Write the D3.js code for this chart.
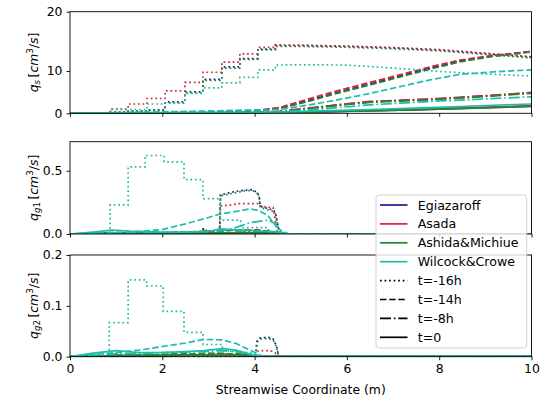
<!DOCTYPE html>
<html>
<head>
<meta charset="utf-8">
<script src="https://cdn.jsdelivr.net/npm/d3@7"></script>
<style>
  body { margin: 0; background: #fff; }
  svg { display: block; }
  text { font-family: "DejaVu Sans", sans-serif; }
</style>
</head>
<body>
<svg id="chart" width="545" height="398"></svg>
<script>
// ---------------- categories ----------------
const models = ["Egiazaroff", "Asada", "Ashida&Michiue", "Wilcock&Crowe"];
const times = ["t=-16h", "t=-14h", "t=-8h", "t=0"];
const xTicks = [0, 2, 4, 6, 8, 10];
const qsTicks = [0, 10, 20];
const g1Ticks = [0.0, 0.5];
const g2Ticks = [0.0, 0.1, 0.2];

// ---------------- q_s (total transport) ----------------
// t=-16h: stepped profile along the reach
const qsX16   = [0, 0.87, 0.87, 1.26, 1.26, 1.67, 1.67, 2.06, 2.06, 2.49, 2.49, 2.88, 2.88, 3.29, 3.29, 3.68, 3.68, 4.07, 4.07, 4.45, 4.45, 5, 6, 7, 8, 9, 10];
const qsEgi16 = [0, 0, 0.3, 0.3, 0.5, 0.5, 0.8, 0.8, 2.7, 2.7, 5.1, 5.1, 8.0, 8.0, 10.7, 10.7, 12.1, 12.1, 13.7, 13.7, 14.3, 14.3, 14.15, 13.9, 13.55, 12.95, 12.35];
const qsAsa16 = [0, 0, 1.0, 1.0, 2.2, 2.2, 3.5, 3.5, 5.3, 5.3, 7.3, 7.3, 9.7, 9.7, 11.5, 11.5, 12.9, 12.9, 14.0, 14.0, 14.4, 14.35, 14.2, 13.95, 13.6, 13.0, 12.4];
const qsAsh16 = [0, 0, 0.25, 0.25, 0.45, 0.45, 0.7, 0.7, 2.5, 2.5, 4.9, 4.9, 7.8, 7.8, 10.5, 10.5, 11.95, 11.95, 13.55, 13.55, 14.15, 14.15, 14.0, 13.75, 13.4, 12.8, 12.2];
const qsWil16 = [0, 0, 0.9, 0.9, 0.9, 0.9, 2.2, 2.2, 2.4, 2.4, 4.7, 4.7, 6.0, 6.0, 7.2, 7.2, 8.5, 8.5, 10.2, 10.2, 11.0, 11.05, 11.0, 10.5, 9.9, 9.3, 8.8];
// later times share one grid
const qsX     = [0, 1, 2, 3, 4, 4.55, 5.2, 5.85, 6.5, 7.15, 7.8, 8.45, 9.17, 10];
const qsEgi14 = [0, 0.05, 0.15, 0.3, 0.6, 1.2, 3.1, 5.1, 6.9, 8.8, 10.45, 11.7, 12.55, 13.3];
const qsAsa14 = [0, 0.05, 0.15, 0.3, 0.65, 1.4, 3.5, 5.5, 7.3, 9.1, 10.7, 11.85, 12.65, 13.3];
const qsAsh14 = [0, 0.05, 0.12, 0.25, 0.55, 1.1, 2.9, 4.9, 6.7, 8.6, 10.3, 11.55, 12.45, 13.2];
const qsWil14 = [0, 0.15, 0.35, 0.55, 0.8, 0.9, 2.0, 3.3, 4.7, 6.3, 7.9, 9.2, 9.8, 10.2];
const qsEgi8  = [0, 0, 0.05, 0.1, 0.2, 0.4, 1.2, 2.0, 2.7, 3.0, 3.3, 3.7, 4.2, 4.9];
const qsAsa8  = [0, 0, 0.05, 0.1, 0.25, 0.5, 1.3, 2.1, 2.8, 3.1, 3.4, 3.8, 4.3, 4.9];
const qsAsh8  = [0, 0, 0.05, 0.1, 0.2, 0.4, 1.1, 1.9, 2.6, 2.9, 3.2, 3.6, 4.1, 4.7];
const qsWil8  = [0, 0.05, 0.1, 0.15, 0.25, 0.3, 0.8, 1.4, 2.0, 2.4, 2.8, 3.1, 3.5, 3.9];
const qsEgi0  = [0, 0, 0.02, 0.05, 0.1, 0.15, 0.3, 0.45, 0.6, 0.75, 0.95, 1.15, 1.4, 1.7];
const qsAsa0  = [0, 0, 0.02, 0.05, 0.1, 0.15, 0.3, 0.45, 0.62, 0.78, 0.98, 1.2, 1.45, 1.75];
const qsAsh0  = [0, 0, 0.02, 0.05, 0.1, 0.15, 0.28, 0.42, 0.58, 0.72, 0.92, 1.1, 1.35, 1.65];
const qsWil0  = [0, 0.1, 0.15, 0.2, 0.25, 0.3, 0.5, 0.7, 0.9, 1.1, 1.35, 1.6, 1.9, 2.2];

// ---------------- q_g1 (fraction 1) ----------------
const g1XStep  = [0, 0.87, 0.87, 1.26, 1.26, 1.63, 1.63, 2.04, 2.04, 2.47, 2.47, 2.88, 2.88, 3.26, 3.26, 3.7, 3.7, 4.3, 4.3, 4.75, 10];
const g1Wil16  = [0, 0, 0.23, 0.23, 0.53, 0.53, 0.62, 0.62, 0.57, 0.57, 0.43, 0.43, 0.28, 0.28, 0.11, 0.11, 0.05, 0.05, 0.02, 0, 0];
const g1XFront = [0, 2.86, 2.88, 2.95, 2.97, 3.24, 3.26, 3.5, 3.65, 3.75, 3.95, 4.05, 4.1, 4.12, 4.3, 4.4, 4.45, 4.5, 4.55, 10];
const g1Egi16  = [0, 0, 0.04, 0.04, 0, 0, 0.31, 0.33, 0.34, 0.345, 0.35, 0.33, 0.3, 0.22, 0.2, 0.19, 0.17, 0.08, 0, 0];
const g1Asa16  = [0, 0, 0, 0, 0, 0, 0.22, 0.23, 0.24, 0.24, 0.24, 0.24, 0.24, 0.22, 0.21, 0.21, 0.1, 0, 0, 0];
const g1Ash16  = [0, 0, 0.035, 0.035, 0, 0, 0.3, 0.32, 0.33, 0.34, 0.345, 0.325, 0.29, 0.21, 0.19, 0.18, 0.16, 0.07, 0, 0];
const g1X      = [0, 0.5, 0.9, 1.3, 2, 2.5, 3, 3.25, 3.5, 3.75, 3.9, 4.1, 4.3, 4.45, 4.6, 4.75, 10];
const g1Wil14  = [0, 0.008, 0.012, 0.015, 0.035, 0.08, 0.13, 0.158, 0.172, 0.188, 0.198, 0.185, 0.14, 0.07, 0.01, 0, 0];
const g1Egi14  = [0, 0.002, 0.004, 0.005, 0.01, 0.015, 0.02, 0.025, 0.03, 0.03, 0.03, 0.028, 0.02, 0.01, 0, 0, 0];
const g1Asa14  = [0, 0.002, 0.004, 0.005, 0.01, 0.015, 0.022, 0.027, 0.032, 0.032, 0.032, 0.03, 0.022, 0.012, 0, 0, 0];
const g1Ash14  = [0, 0.002, 0.003, 0.004, 0.009, 0.014, 0.019, 0.024, 0.028, 0.028, 0.028, 0.026, 0.019, 0.009, 0, 0, 0];
const g1Wil8   = [0, 0.005, 0.008, 0.01, 0.012, 0.015, 0.02, 0.025, 0.04, 0.07, 0.09, 0.1, 0.11, 0.08, 0.02, 0, 0];
const g1Egi8   = [0, 0.001, 0.002, 0.003, 0.004, 0.005, 0.006, 0.008, 0.01, 0.012, 0.014, 0.015, 0.012, 0.008, 0.002, 0, 0];
const g1Asa8   = [0, 0.001, 0.002, 0.003, 0.004, 0.005, 0.006, 0.008, 0.01, 0.012, 0.014, 0.015, 0.012, 0.008, 0.002, 0, 0];
const g1Ash8   = [0, 0.001, 0.002, 0.003, 0.004, 0.005, 0.006, 0.008, 0.01, 0.012, 0.013, 0.014, 0.011, 0.007, 0.002, 0, 0];
const g1Wil0   = [0, 0.015, 0.03, 0.022, 0.015, 0.015, 0.02, 0.04, 0.035, 0.03, 0.028, 0.022, 0.02, 0.018, 0.01, 0, 0];
const g1Egi0   = [0, 0.005, 0.008, 0.007, 0.006, 0.006, 0.007, 0.01, 0.009, 0.008, 0.008, 0.007, 0.006, 0.005, 0.002, 0, 0];
const g1Asa0   = [0, 0.005, 0.008, 0.007, 0.006, 0.006, 0.007, 0.01, 0.009, 0.008, 0.008, 0.007, 0.006, 0.005, 0.002, 0, 0];
const g1Ash0   = [0, 0.004, 0.007, 0.006, 0.005, 0.005, 0.006, 0.009, 0.008, 0.007, 0.007, 0.006, 0.005, 0.004, 0.002, 0, 0];

// ---------------- q_g2 (fraction 2) ----------------
const g2XStep  = [0, 0.85, 0.85, 1.26, 1.26, 1.66, 1.66, 2.02, 2.02, 2.47, 2.47, 2.88, 2.88, 3.3, 3.3, 3.9, 4.2, 10];
const g2Wil16  = [0, 0, 0.067, 0.067, 0.151, 0.151, 0.139, 0.139, 0.089, 0.089, 0.048, 0.048, 0.024, 0.024, 0.012, 0.008, 0, 0];
const g2XFront = [0, 4.02, 4.05, 4.12, 4.3, 4.4, 4.48, 4.52, 10];
const g2Egi16  = [0, 0, 0.03, 0.037, 0.038, 0.035, 0.02, 0, 0];
const g2Asa16  = [0, 0, 0.01, 0.012, 0.012, 0.01, 0.005, 0, 0];
const g2Ash16  = [0, 0, 0.028, 0.035, 0.036, 0.033, 0.018, 0, 0];
const g2X      = [0, 0.5, 1, 1.5, 2, 2.5, 2.9, 3.3, 3.6, 3.9, 4.2, 10];
const g2Wil14  = [0, 0.005, 0.008, 0.013, 0.02, 0.027, 0.034, 0.033, 0.026, 0.013, 0, 0];
const g2Oth14  = [0, 0.001, 0.002, 0.003, 0.004, 0.005, 0.006, 0.006, 0.005, 0.003, 0, 0];
const g2Wil8   = [0, 0.003, 0.006, 0.006, 0.008, 0.009, 0.01, 0.012, 0.01, 0.005, 0, 0];
const g2Oth8   = [0, 0.001, 0.002, 0.002, 0.002, 0.003, 0.003, 0.004, 0.003, 0.002, 0, 0];
const g2Wil0   = [0, 0.007, 0.012, 0.008, 0.008, 0.01, 0.012, 0.016, 0.013, 0.005, 0, 0];
const g2Oth0   = [0, 0.001, 0.002, 0.002, 0.002, 0.003, 0.003, 0.004, 0.003, 0.002, 0, 0];

// ---------------- styling ----------------
const colors = { "Egiazaroff": "#1a1a8c", "Asada": "#dc1f3c", "Ashida&Michiue": "#1f8a2f", "Wilcock&Crowe": "#1fbcab" };
const LW = 1.7;
const dashes = { "t=-16h": "1.7,2.85", "t=-14h": "6.4,2.8", "t=-8h": "11,2.8,1.7,2.8", "t=0": null };

// series grouped per panel: [model, time, x, y]
const panelSeries = [
  [
    ["Egiazaroff", "t=-16h", qsX16, qsEgi16], ["Egiazaroff", "t=-14h", qsX, qsEgi14], ["Egiazaroff", "t=-8h", qsX, qsEgi8], ["Egiazaroff", "t=0", qsX, qsEgi0],
    ["Asada", "t=-16h", qsX16, qsAsa16], ["Asada", "t=-14h", qsX, qsAsa14], ["Asada", "t=-8h", qsX, qsAsa8], ["Asada", "t=0", qsX, qsAsa0],
    ["Ashida&Michiue", "t=-16h", qsX16, qsAsh16], ["Ashida&Michiue", "t=-14h", qsX, qsAsh14], ["Ashida&Michiue", "t=-8h", qsX, qsAsh8], ["Ashida&Michiue", "t=0", qsX, qsAsh0],
    ["Wilcock&Crowe", "t=-16h", qsX16, qsWil16], ["Wilcock&Crowe", "t=-14h", qsX, qsWil14], ["Wilcock&Crowe", "t=-8h", qsX, qsWil8], ["Wilcock&Crowe", "t=0", qsX, qsWil0]
  ],
  [
    ["Egiazaroff", "t=-16h", g1XFront, g1Egi16], ["Egiazaroff", "t=-14h", g1X, g1Egi14], ["Egiazaroff", "t=-8h", g1X, g1Egi8], ["Egiazaroff", "t=0", g1X, g1Egi0],
    ["Asada", "t=-16h", g1XFront, g1Asa16], ["Asada", "t=-14h", g1X, g1Asa14], ["Asada", "t=-8h", g1X, g1Asa8], ["Asada", "t=0", g1X, g1Asa0],
    ["Ashida&Michiue", "t=-16h", g1XFront, g1Ash16], ["Ashida&Michiue", "t=-14h", g1X, g1Ash14], ["Ashida&Michiue", "t=-8h", g1X, g1Ash8], ["Ashida&Michiue", "t=0", g1X, g1Ash0],
    ["Wilcock&Crowe", "t=-16h", g1XStep, g1Wil16], ["Wilcock&Crowe", "t=-14h", g1X, g1Wil14], ["Wilcock&Crowe", "t=-8h", g1X, g1Wil8], ["Wilcock&Crowe", "t=0", g1X, g1Wil0]
  ],
  [
    ["Egiazaroff", "t=-16h", g2XFront, g2Egi16], ["Egiazaroff", "t=-14h", g2X, g2Oth14], ["Egiazaroff", "t=-8h", g2X, g2Oth8], ["Egiazaroff", "t=0", g2X, g2Oth0],
    ["Asada", "t=-16h", g2XFront, g2Asa16], ["Asada", "t=-14h", g2X, g2Oth14], ["Asada", "t=-8h", g2X, g2Oth8], ["Asada", "t=0", g2X, g2Oth0],
    ["Ashida&Michiue", "t=-16h", g2XFront, g2Ash16], ["Ashida&Michiue", "t=-14h", g2X, g2Oth14], ["Ashida&Michiue", "t=-8h", g2X, g2Oth8], ["Ashida&Michiue", "t=0", g2X, g2Oth0],
    ["Wilcock&Crowe", "t=-16h", g2XStep, g2Wil16], ["Wilcock&Crowe", "t=-14h", g2X, g2Wil14], ["Wilcock&Crowe", "t=-8h", g2X, g2Wil8], ["Wilcock&Crowe", "t=0", g2X, g2Wil0]
  ]
];

// ---------------- layout ----------------
const svg = d3.select("#chart");
const xLeft = 70, xRight = 531.5;
const x = d3.scaleLinear().domain([0, 10]).range([xLeft, xRight]);

const panels = [
  { top: 11.7, bottom: 113.3, y: d3.scaleLinear().domain([0, 10, 20]).range([113.3, 71, 11.7]), ticks: qsTicks, fmt: d3.format("d"), sub: [["s", true]] },
  { top: 141.7, bottom: 234, y: d3.scaleLinear().domain([0, 0.729]).range([234, 141.7]), ticks: g1Ticks, fmt: d3.format(".1f"), sub: [["g", true], ["1", false]] },
  { top: 255, bottom: 356.7, y: d3.scaleLinear().domain([0, 0.2]).range([356.7, 255]), ticks: g2Ticks, fmt: d3.format(".1f"), sub: [["g", true], ["2", false]] }
];

const FS = 12.4;

panels.forEach((p, i) => {
  const g = svg.append("g");
  const clipId = "clip" + i;
  svg.append("clipPath").attr("id", clipId)
    .append("rect").attr("x", xLeft).attr("y", p.top).attr("width", xRight - xLeft).attr("height", p.bottom - p.top);

  const lines = g.append("g").attr("clip-path", `url(#${clipId})`);
  const line = d3.line().x(d => x(d[0])).y(d => p.y(d[1]));
  panelSeries[i].forEach(([m, t, xs, ys]) => {
    lines.append("path")
      .attr("d", line(xs.map((v, k) => [v, ys[k]])))
      .attr("fill", "none")
      .attr("stroke", colors[m])
      .attr("stroke-width", LW)
      .attr("stroke-dasharray", dashes[t]);
  });

  // frame
  g.append("rect").attr("x", xLeft).attr("y", p.top).attr("width", xRight - xLeft).attr("height", p.bottom - p.top)
    .attr("fill", "none").attr("stroke", "#000").attr("stroke-width", 0.9);

  // axes
  const ya = g.append("g").attr("transform", `translate(${xLeft},0)`)
    .call(d3.axisLeft(p.y).tickValues(p.ticks).tickFormat(p.fmt).tickSize(3.5).tickPadding(4));
  const xa = g.append("g").attr("transform", `translate(0,${p.bottom})`)
    .call(d3.axisBottom(x).tickValues(xTicks).tickFormat(i === 2 ? d3.format("d") : () => "").tickSize(3.5).tickPadding(4.5));
  [ya, xa].forEach(a => {
    a.select(".domain").remove();
    a.selectAll("line").attr("stroke", "#000").attr("stroke-width", 0.9);
    a.selectAll("text").attr("font-size", FS).attr("font-family", "DejaVu Sans").attr("fill", "#000");
  });

  // y label (mathtext style)
  const cy = (p.top + p.bottom) / 2;
  const lab = g.append("text").attr("transform", `translate(37.5,${cy}) rotate(-90)`)
    .attr("text-anchor", "middle").attr("font-size", FS).attr("fill", "#000");
  lab.append("tspan").attr("font-style", "italic").text("q");
  p.sub.forEach(([s, it], k) => {
    lab.append("tspan").attr("font-style", it ? "italic" : "normal").attr("font-size", FS * 0.7)
      .attr("dy", k === 0 ? 2.5 : 0).text(s);
  });
  lab.append("tspan").attr("dy", -2.5).text("\u2009[");
  lab.append("tspan").attr("font-style", "italic").text("cm");
  lab.append("tspan").attr("font-size", FS * 0.7).attr("dy", -4.5).text("3");
  lab.append("tspan").attr("dy", 4.5).text("/");
  lab.append("tspan").attr("font-style", "italic").text("s");
  lab.append("tspan").text("]");
});

// x label
svg.append("text").attr("x", (xLeft + xRight) / 2).attr("y", 393.5).attr("text-anchor", "middle")
  .attr("font-size", FS).attr("fill", "#000").text("Streamwise Coordinate (m)");

// ---------------- legend ----------------
const legend = svg.append("g");
legend.append("rect").attr("x", 376).attr("y", 195).attr("width", 150.7).attr("height", 153).attr("rx", 3)
  .attr("fill", "#fff").attr("fill-opacity", 0.8).attr("stroke", "#cccccc").attr("stroke-width", 0.9);
const entries = models.map(m => ({ label: m, color: colors[m], dash: null }))
  .concat(times.map(t => ({ label: t, color: "#000", dash: dashes[t] })));
entries.forEach((e, k) => {
  const yy = 205 + k * 18.9;
  legend.append("line").attr("x1", 380).attr("x2", 407.5).attr("y1", yy).attr("y2", yy)
    .attr("stroke", e.color).attr("stroke-width", LW).attr("stroke-dasharray", e.dash);
  legend.append("text").attr("x", 417.7).attr("y", yy + 4.5).attr("font-size", 12.6).attr("fill", "#000").text(e.label);
});
</script>
</body>
</html>
